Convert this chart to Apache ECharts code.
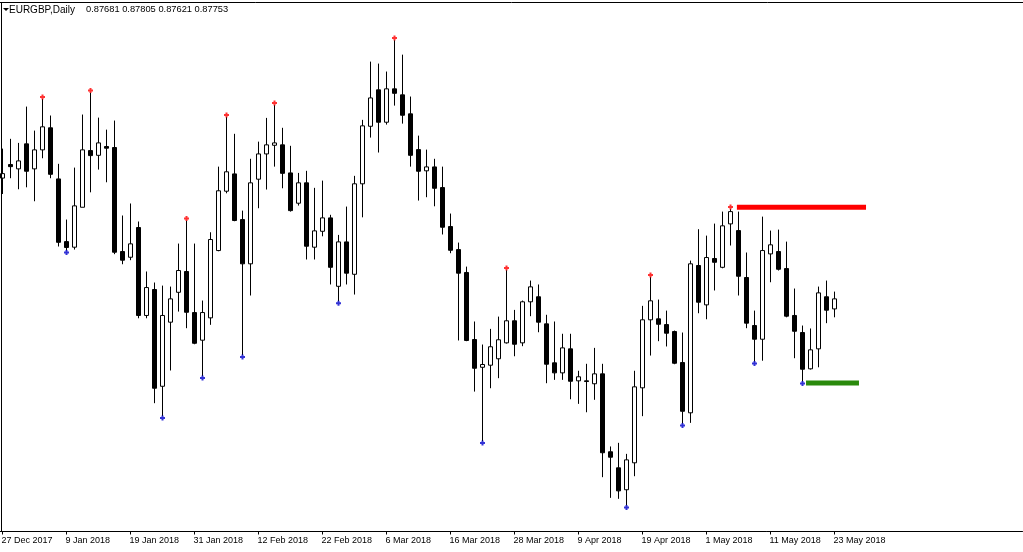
<!DOCTYPE html>
<html><head><meta charset="utf-8">
<script src="https://cdn.jsdelivr.net/npm/echarts@6/dist/echarts.min.js"></script>
<style>html,body{margin:0;padding:0;background:#fff}#c{width:1023px;height:552px}</style>
</head><body><div id="c"></div>
<script>
// EURGBP Daily, 27 Dec 2017 .. 23 May 2018
const opens = [0.88618,0.88715,0.88684,0.88863,0.88684,0.88820,0.88978,0.88612,0.88163,0.88123,
0.88409,0.88815,0.88781,0.88844,0.88837,0.88092,0.88051,0.88264,0.87634,0.87820,
0.87127,0.87586,0.87800,0.87949,0.87655,0.87457,0.87617,0.88099,0.88524,0.88648,
0.88321,0.88004,0.88610,0.88791,0.88853,0.88856,0.88655,0.88438,0.88584,0.88123,
0.88237,0.88333,0.87843,0.88161,0.87929,0.88577,0.88989,0.89250,0.89018,0.89257,
0.89214,0.89078,0.88822,0.88670,0.88698,0.88550,0.88271,0.88106,0.87942,0.87462,
0.87263,0.87278,0.87324,0.87438,0.87596,0.87438,0.87732,0.87768,0.87574,0.87295,
0.87223,0.87395,0.87166,0.87166,0.87145,0.87216,0.86658,0.86543,0.86386,0.86579,
0.87116,0.87603,0.87610,0.87569,0.87519,0.87297,0.86937,0.87992,0.87710,0.88042,
0.87979,0.88290,0.88242,0.87906,0.87562,0.87464,0.88075,0.88092,0.87970,0.87634,
0.87512,0.87252,0.87395,0.87768,0.87681];
const highs = [0.88829,0.88899,0.88870,0.89130,0.88958,0.89184,0.89066,0.88720,0.88321,0.88693,
0.89073,0.89230,0.89051,0.88965,0.89030,0.88350,0.88436,0.88307,0.87949,0.87870,
0.87848,0.87841,0.88149,0.88314,0.88149,0.87741,0.88230,0.88700,0.89055,0.88935,
0.88385,0.88756,0.88879,0.89049,0.89141,0.88978,0.88849,0.88655,0.88670,0.88548,
0.88600,0.88355,0.88211,0.88414,0.88634,0.89035,0.89452,0.89438,0.89381,0.89606,
0.89502,0.89202,0.88922,0.88822,0.88756,0.88700,0.88364,0.88156,0.87984,0.87591,
0.87426,0.87538,0.87626,0.87959,0.87674,0.87741,0.87884,0.87856,0.87639,0.87591,
0.87503,0.87503,0.87238,0.87288,0.87402,0.87288,0.86696,0.86722,0.86643,0.87238,
0.87703,0.87909,0.87748,0.87669,0.87526,0.87512,0.88027,0.88252,0.88206,0.88292,
0.88378,0.88396,0.88378,0.88085,0.87669,0.88342,0.88242,0.88249,0.88163,0.87827,
0.87562,0.87541,0.87841,0.87884,0.87805];
const lows = [0.88504,0.88617,0.88538,0.88552,0.88452,0.88760,0.88617,0.88128,0.88099,0.88106,
0.88409,0.88516,0.88679,0.88588,0.88073,0.88001,0.88030,0.87614,0.87614,0.87006,
0.86914,0.87240,0.87662,0.87543,0.87428,0.87200,0.87567,0.88094,0.88509,0.88309,
0.87351,0.87777,0.88402,0.88536,0.88700,0.88545,0.88378,0.88421,0.88035,0.88035,
0.88201,0.87856,0.87736,0.87856,0.87784,0.88337,0.88908,0.88801,0.89001,0.89137,
0.89008,0.88700,0.88457,0.88481,0.88416,0.88214,0.88080,0.87455,0.87450,0.87089,
0.86735,0.87113,0.87185,0.87433,0.87342,0.87414,0.87629,0.87514,0.87149,0.87173,
0.87173,0.87034,0.87001,0.86941,0.87030,0.86476,0.86328,0.86321,0.86273,0.86483,
0.86913,0.87347,0.87450,0.87412,0.87285,0.86860,0.86865,0.87650,0.87607,0.87813,
0.87972,0.88135,0.87777,0.87543,0.87304,0.87310,0.87872,0.87956,0.87621,0.87328,
0.87161,0.87247,0.87263,0.87579,0.87621];
const closes = [0.88650,0.88700,0.88741,0.88667,0.88820,0.88985,0.88645,0.88158,0.88121,0.88419,
0.88820,0.88779,0.88870,0.88832,0.88087,0.88030,0.88147,0.87634,0.87834,0.87113,
0.87634,0.87753,0.87956,0.87657,0.87435,0.87655,0.88178,0.88527,0.88663,0.88314,
0.88004,0.88584,0.88791,0.88856,0.88870,0.88652,0.88385,0.88584,0.88130,0.88240,
0.88333,0.87979,0.88161,0.87937,0.88577,0.88992,0.89192,0.89018,0.89257,0.89225,
0.89068,0.88781,0.88667,0.88698,0.88545,0.88266,0.88101,0.87937,0.87455,0.87256,
0.87283,0.87410,0.87460,0.87596,0.87428,0.87732,0.87839,0.87586,0.87285,0.87223,
0.87402,0.87163,0.87195,0.87161,0.87216,0.86651,0.86619,0.86378,0.86600,0.87123,
0.87603,0.87739,0.87571,0.87507,0.87292,0.86948,0.88004,0.87729,0.88049,0.88015,
0.88276,0.88378,0.87915,0.87579,0.87464,0.88099,0.88140,0.87965,0.87629,0.87521,
0.87249,0.87388,0.87796,0.87672,0.87753];
// axis tick labels, one every 8 bars
const tickLabels = ['27 Dec 2017','9 Jan 2018','19 Jan 2018','31 Jan 2018','12 Feb 2018','22 Feb 2018',
'6 Mar 2018','16 Mar 2018','28 Mar 2018','9 Apr 2018','19 Apr 2018','1 May 2018','11 May 2018','23 May 2018'];
// fractal bars (indices)
const upFractals = [5,11,23,28,34,49,63,81,91];
const downFractals = [8,20,25,30,42,60,78,85,94,100];
// horizontal levels: [startBar, endBar, price]
const resistanceLine = [91.8, 107.94, 0.88410];
const supportLine = [100.44, 107.06, 0.87150];
const header = ['EURGBP,Daily', '0.87681 0.87805 0.87621 0.87753'];

const TOTAL_SLOTS = 128;
const cats = [];
for (let i = 0; i < TOTAL_SLOTS; i++) cats.push(i % 8 === 0 && i / 8 < tickLabels.length ? tickLabels[i / 8] : (i < opens.length ? 'd' + i : ''));
const candle = opens.map((o, i) => [o, closes[i], lows[i], highs[i]]);
const isTick = (idx) => idx % 8 === 0 && idx / 8 < tickLabels.length;

const chart = echarts.init(document.getElementById('c'), null, {renderer: 'canvas'});
chart.setOption({
  animation: false,
  backgroundColor: '#ffffff',
  grid: {left: -1.5, right: 0.5, top: 2, bottom: 20.5, containLabel: false, outerBoundsMode: 'none'},
  xAxis: [{
    type: 'category', data: cats, boundaryGap: true,
    axisLine: {show: true, lineStyle: {color: '#000', width: 1}},
    axisTick: {show: true, alignWithLabel: true, length: 3, interval: (idx) => isTick(idx), lineStyle: {color: '#000', width: 1}},
    axisLabel: {show: true, interval: (idx) => isTick(idx), align: 'left', margin: 5,
      fontSize: 9, fontFamily: 'Liberation Sans', color: '#000', padding: [0, 0, 0, -1],
      formatter: (v) => v},
    splitLine: {show: false}
  }, {
    type: 'value', min: -0.5, max: TOTAL_SLOTS - 0.5, show: false
  }],
  yAxis: {type: 'value', min: 0.86087, max: 0.89879, show: false, splitLine: {show: false}},
  series: [{
    type: 'candlestick', data: candle, barWidth: 4, silent: true,
    itemStyle: {color: '#ffffff', color0: '#000000', borderColor: '#000000', borderColor0: '#000000', borderWidth: 1}
  }, {
    type: 'scatter', silent: true, z: 5,
    symbol: 'path://M1.5,0h2v1.5h1.5v2h-1.5v1.5h-2v-1.5h-1.5v-2h1.5z', symbolSize: 5, symbolOffset: [0, -2],
    itemStyle: {color: '#ff0000'},
    data: upFractals.map(i => [i, highs[i]])
  }, {
    type: 'scatter', silent: true, z: 5,
    symbol: 'path://M1.5,0h2v1.5h1.5v2h-1.5v1.5h-2v-1.5h-1.5v-2h1.5z', symbolSize: 5, symbolOffset: [0, 2],
    itemStyle: {color: '#0000cc'},
    data: downFractals.map(i => [i, lows[i]])
  }, {
    type: 'line', xAxisIndex: 1, silent: true, symbol: 'none',
    lineStyle: {color: '#ff0000', width: 5, cap: 'butt'},
    data: [[resistanceLine[0], resistanceLine[2]], [resistanceLine[1], resistanceLine[2]]]
  }, {
    type: 'line', xAxisIndex: 1, silent: true, symbol: 'none',
    lineStyle: {color: '#2a8a0c', width: 5, cap: 'butt'},
    data: [[supportLine[0], supportLine[2]], [supportLine[1], supportLine[2]]]
  }],
  graphic: [
    {type: 'line', silent: true, z: 100, shape: {x1: 0, y1: 2.5, x2: 1023, y2: 2.5}, style: {stroke: '#000', lineWidth: 1}},
    {type: 'line', silent: true, z: 100, shape: {x1: 1.5, y1: 2, x2: 1.5, y2: 532}, style: {stroke: '#000', lineWidth: 1}},
    {type: 'polygon', silent: true, z: 100, shape: {points: [[3, 8], [9, 8], [6, 11]]}, style: {fill: '#000'}},
    {type: 'text', silent: true, z: 100, left: 9, top: 5, style: {text: header[0], font: '10px "Liberation Sans"', fill: '#000'}},
    {type: 'text', silent: true, z: 100, left: 86, top: 5, style: {text: header[1], font: '9.3px "Liberation Sans"', fill: '#000'}}
  ]
});
</script></body></html>
